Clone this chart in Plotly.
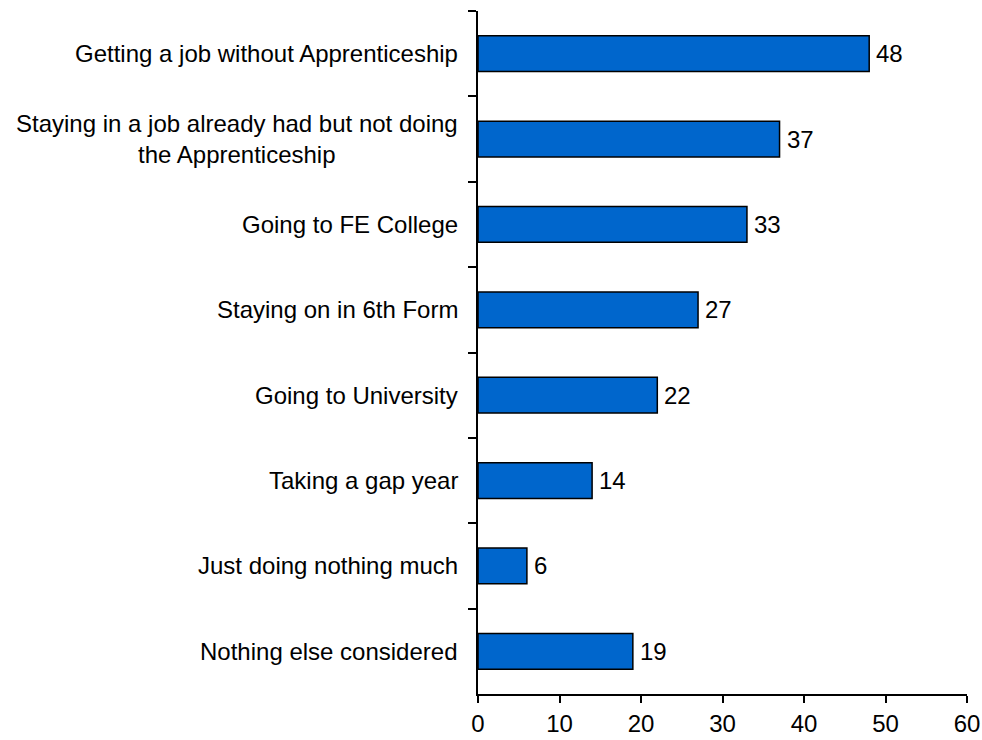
import plotly.graph_objects as go

# Alternatives considered (top to bottom) and percentage of respondents
categories = [
    "Getting a job without Apprenticeship",
    "Staying in a job already had but not doing<br>the Apprenticeship",
    "Going to FE College",
    "Staying on in 6th Form",
    "Going to University",
    "Taking a gap year",
    "Just doing nothing much",
    "Nothing else considered",
]
values = [48, 37, 33, 27, 22, 14, 6, 19]
x_ticks = [0, 10, 20, 30, 40, 50, 60]

FONT = "Liberation Sans, Arial, sans-serif"
BAR_BLUE = "#0066CC"
FONT_SIZE = 24

fig = go.Figure(
    go.Bar(
        x=values,
        y=categories,
        orientation="h",
        marker=dict(color=BAR_BLUE, line=dict(color="black", width=1.5)),
        width=0.42,
        hoverinfo="x+y",
    )
)

# Value labels just past the end of each bar
for cat, v in zip(categories, values):
    fig.add_annotation(
        x=v, xref="x", xanchor="left", xshift=5,
        y=cat, yref="y", yanchor="middle",
        text=str(v), showarrow=False,
        font=dict(family=FONT, size=FONT_SIZE, color="black"),
    )

# Category labels, centred line by line, to the left of the axis
for cat in categories:
    fig.add_annotation(
        x=0, xref="paper", xanchor="right", xshift=-18,
        y=cat, yref="y", yanchor="middle",
        text=cat, align="center", showarrow=False,
        font=dict(family=FONT, size=FONT_SIZE, color="black"),
    )

fig.update_layout(
    width=982, height=740,
    margin=dict(l=478, r=15, t=11, b=46, autoexpand=False),
    paper_bgcolor="white", plot_bgcolor="white",
    showlegend=False,
    font=dict(family=FONT, size=FONT_SIZE, color="black"),
)
fig.update_xaxes(
    range=[0, 60], tickvals=x_ticks, ticks="outside", ticklen=7,
    tickwidth=1.5, tickcolor="black", showline=True, linecolor="black",
    linewidth=1.5, showgrid=False, zeroline=False, automargin=False,
    tickfont=dict(family=FONT, size=FONT_SIZE, color="black"),
)
fig.update_yaxes(
    autorange="reversed", showticklabels=False, ticks="outside",
    tickson="boundaries", ticklen=8, tickwidth=1.5, tickcolor="black",
    showline=True, linecolor="black", linewidth=1.5, showgrid=False,
    zeroline=False, automargin=False,
)

fig.write_html("out.html")
